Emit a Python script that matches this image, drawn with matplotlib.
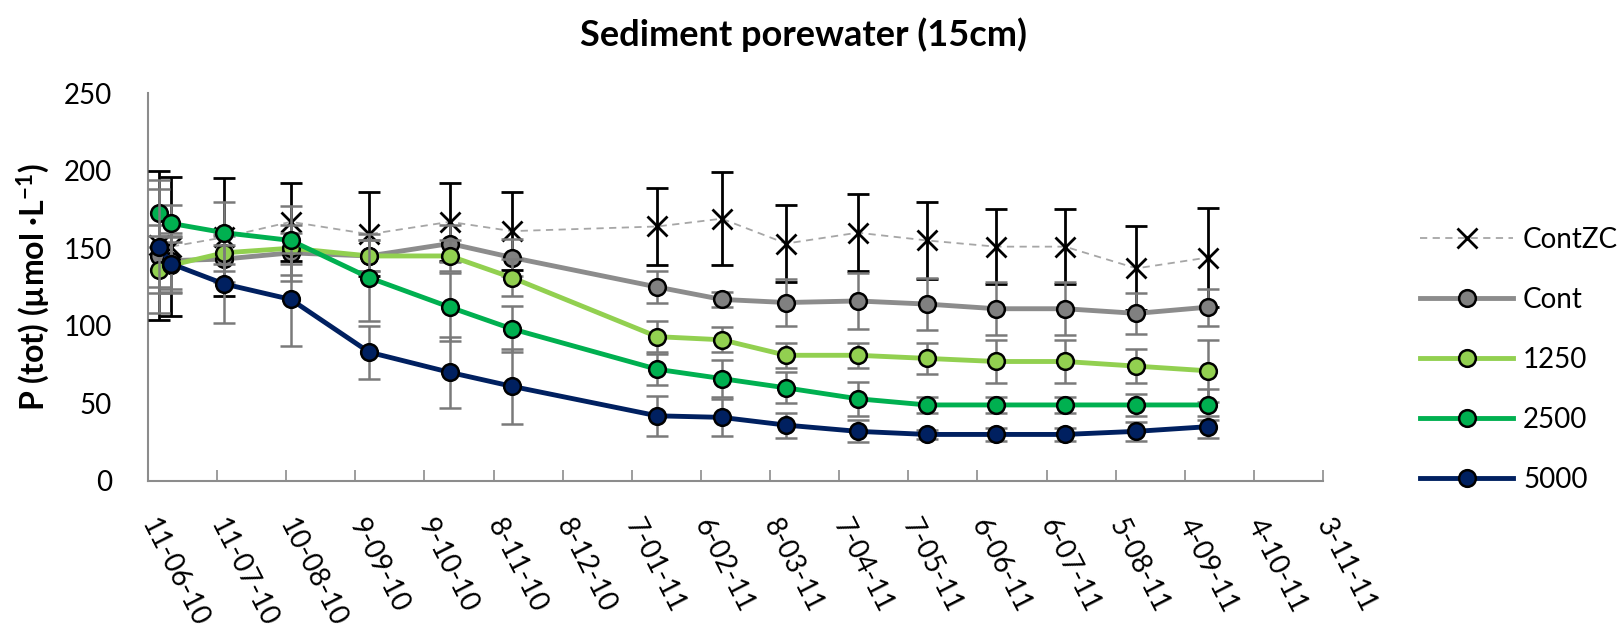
import numpy as np
import pandas as pd
import matplotlib
matplotlib.use("Agg")
import matplotlib.pyplot as plt

plt.rcParams['font.family'] = ['Lato', 'DejaVu Sans']
plt.rcParams['mathtext.default'] = 'regular'

# sampling dates and series values (P tot, umol/L)
dates = pd.to_datetime(['2010-06-16', '2010-06-21', '2010-07-14', '2010-08-12', '2010-09-15',
                        '2010-10-20', '2010-11-16', '2011-01-18', '2011-02-15', '2011-03-15',
                        '2011-04-15', '2011-05-15', '2011-06-14', '2011-07-14', '2011-08-14',
                        '2011-09-14'])
contzc = [152, 151, 157, 167, 159, 167, 161, 164, 169, 153, 160, 155, 151, 151, 137, 144]
contzc_err = [48, 45, 38, 25, 27, 25, 25, 25, 30, 25, 25, 25, 24, 24, 27, 32]
cont = [145, 142, 143, 147, 145, 153, 144, 125, 117, 115, 116, 114, 111, 111, 108, 112]
cont_err = [20, 18, 15, 18, 10, 12, 12, 10, 5, 15, 18, 17, 17, 17, 13, 12]
p1250 = [136, 139, 147, 150, 145, 145, 131, 93, 91, 81, 81, 79, 77, 77, 74, 71]
p1250_err = [15, 18, 12, 10, 10, 10, 12, 10, 8, 8, 8, 10, 14, 14, 11, 20]
p2500 = [173, 166, 160, 155, 131, 112, 98, 72, 66, 60, 53, 49, 49, 49, 49, 49]
p2500_err = [15, 12, 20, 22, 28, 22, 15, 10, 12, 10, 11, 5, 5, 5, 7, 10]
p5000 = [151, 140, 127, 117, 83, 70, 61, 42, 41, 36, 32, 30, 30, 30, 32, 35]
p5000_err = [43, 18, 25, 30, 17, 23, 24, 13, 12, 8, 7, 3, 4, 4, 6, 7]

x_start = pd.Timestamp('2010-06-11')
x_end = pd.Timestamp('2011-11-03')
tick_dates = pd.date_range(x_start, x_end, freq='30D')

fig = plt.figure(figsize=(16.24, 6.37), dpi=100)
ax = fig.add_axes([0.0911, 0.2449, 0.7236, 0.6091])

axis_grey = '#8c8c8c'

# ContZC: thin dashed grey line, black X markers, black error bars
ax.errorbar(dates, contzc, yerr=contzc_err, color='#a6a6a6', lw=1.3, ls=(0, (4, 3)),
            marker='x', ms=14, mew=2, mec='black', ecolor='black', elinewidth=2,
            capsize=8, capthick=3, label='ContZC', zorder=3)

series = [
    (cont, cont_err, '#8c8c8c', '#808080', 'Cont'),
    (p1250, p1250_err, '#92d050', '#92d050', '1250'),
    (p2500, p2500_err, '#00b050', '#00b050', '2500'),
    (p5000, p5000_err, '#002060', '#002060', '5000'),
]
for i, (vals, err, lc, fc, name) in enumerate(series):
    line, caps, bars = ax.errorbar(dates, vals, yerr=err, color=lc, lw=3.5, marker='o', ms=12,
                                   mfc=fc, mec='black', mew=1.8, ecolor='#7a7a7a',
                                   elinewidth=1.8, capsize=8, capthick=2, label=name,
                                   zorder=4 + i)
    for c in caps:
        c.set_color('#333333')

ax.set_xlim(x_start, x_end)
ax.set_ylim(0, 250)
ax.set_yticks(np.arange(0, 251, 50))
ax.set_xticks(tick_dates)
ax.set_xticklabels([f"{d.day}-{d.month:02d}-{d.year % 100:02d}" for d in tick_dates],
                   rotation=-63, ha='left', va='center', rotation_mode='anchor')
ax.xaxis.set_tick_params(direction='in', length=8, color=axis_grey, width=1.2, pad=28)
ax.yaxis.set_tick_params(length=0, pad=26)
ax.tick_params(labelsize=20)
for s in ['top', 'right']:
    ax.spines[s].set_visible(False)
for s in ['left', 'bottom']:
    ax.spines[s].set_color(axis_grey)
    ax.spines[s].set_linewidth(1.5)

ax.set_ylabel('P (tot) (µmol ·L$^{-1}$)', fontsize=23, fontweight='bold', labelpad=8)
fig.text(0.495, 0.945, 'Sediment porewater (15cm)', fontsize=26, fontweight='bold',
         ha='center', va='center')

handles, labels = ax.get_legend_handles_labels()
handles = [h[0] for h in handles]
fig.legend(handles, labels, loc='center left', bbox_to_anchor=(0.8744, 0.4349), frameon=False,
           fontsize=20, handlelength=3.35, labelspacing=1.22, handletextpad=0.36,
           borderpad=0, borderaxespad=0)

fig.savefig('out.png', dpi=100)
